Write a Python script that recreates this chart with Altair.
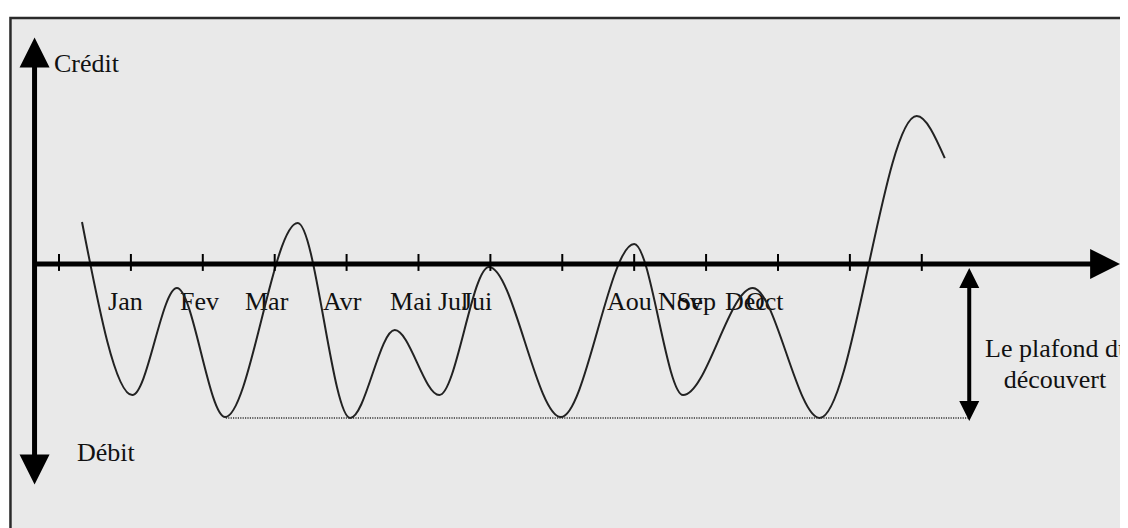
import altair as alt
import pandas as pd

# ---- data (x in months, y in balance units; plafond = -1000) ----
curve_t = [0.32, 1.02, 1.64, 2.31, 3.32, 4.05, 4.67, 5.29, 5.98, 6.98, 8.0, 8.68, 9.65, 10.58, 11.93, 12.32]
curve_v = [273, -851, -156, -994, 266, -1000, -429, -851, -19, -994, 130, -851, -156, -1000, 961, 688]

month_labels = ["Jan", "Fev", "Mar", "Avr", "Mai", "Jul", "Jui", "Aou", "Nov", "Sep", "Dec", "Oct"]
month_label_t = [0.682, 1.683, 2.587, 3.672, 4.604, 5.271, 5.605, 7.622, 8.331, 8.595, 9.263, 9.555]
month_label_v = -299

tick_t = list(range(13))
plafond = -1000

side_texts = ["Crédit", "Débit", "Le plafond du", "découvert"]
side_t = [-0.07, 0.25, 12.88, 13.14]
side_v = [1247, -1279, -604, -805]

# ---- scales ----
xs = alt.Scale(domain=[-0.7093, 14.757], nice=False, zero=False)
ys = alt.Scale(domain=[-1714.3, 1662.3], nice=False, zero=False)

def X(f="t"):
    return alt.X(f + ":Q", scale=xs, axis=None)

def Y(f="v"):
    return alt.Y(f + ":Q", scale=ys, axis=None)

box = alt.Chart(pd.DataFrame({"t": [-0.675], "t2": [16.0], "v": [1597], "v2": [-2000]})).mark_rect(
    fill="#e9e9e9", stroke="#2a2a2a", strokeWidth=2.5
).encode(x=X(), x2="t2:Q", y=Y(), y2="v2:Q")

plafond_line = alt.Chart(pd.DataFrame({"t": [2.32], "t2": [12.66], "v": [plafond]})).mark_rule(
    color="#333", strokeWidth=1.6, strokeDash=[1.2, 1.2]
).encode(x=X(), x2="t2:Q", y=Y())

curve = alt.Chart(pd.DataFrame({"t": curve_t, "v": curve_v})).mark_line(
    interpolate="monotone", color="#222", strokeWidth=2
).encode(x=X(), y=Y())

h_axis = alt.Chart(pd.DataFrame({"t": [-0.34], "t2": [14.4], "v": [0]})).mark_rule(
    color="black", strokeWidth=5
).encode(x=X(), x2="t2:Q", y=Y())

v_axis = alt.Chart(pd.DataFrame({"t": [-0.34], "v": [1330], "v2": [-1290]})).mark_rule(
    color="black", strokeWidth=5
).encode(x=X(), y=Y(), y2="v2:Q")

ticks = alt.Chart(pd.DataFrame({"t": tick_t, "v": [65] * len(tick_t), "v2": [-45] * len(tick_t)})).mark_rule(
    color="black", strokeWidth=2
).encode(x=X(), y=Y(), y2="v2:Q")

UP = "M0,-1L1,1L-1,1Z"
DOWN = "M-1,-1L1,-1L0,1Z"
RIGHT = "M-1,-1L1,0L-1,1Z"

def arrow(t, v, shape, size):
    return alt.Chart(pd.DataFrame({"t": [t], "v": [v]})).mark_point(
        shape=shape, size=size, filled=True, color="black", opacity=1, strokeWidth=0
    ).encode(x=X(), y=Y())

arrows = [
    arrow(-0.34, 1373, UP, 900),
    arrow(-0.34, -1334, DOWN, 900),
    arrow(14.55, 0, RIGHT, 900),
    arrow(12.66, -91, UP, 400),
    arrow(12.66, -955, DOWN, 400),
]

plafond_arrow = alt.Chart(pd.DataFrame({"t": [12.66], "v": [-104], "v2": [-916]})).mark_rule(
    color="black", strokeWidth=4
).encode(x=X(), y=Y(), y2="v2:Q")

labels = alt.Chart(pd.DataFrame({"t": month_label_t, "v": [month_label_v] * len(month_labels), "txt": month_labels})).mark_text(
    font="Liberation Serif", fontSize=26, align="left", baseline="alphabetic", color="#111"
).encode(x=X(), y=Y(), text="txt:N")

side = alt.Chart(pd.DataFrame({"t": side_t, "v": side_v, "txt": side_texts})).mark_text(
    font="Liberation Serif", fontSize=26, align="left", baseline="alphabetic", color="#111"
).encode(x=X(), y=Y(), text="txt:N")

chart = alt.layer(
    box, plafond_line, labels, side, curve, h_axis, v_axis, ticks, plafond_arrow, *arrows
).properties(
    width=1112, height=520, padding=0,
    autosize=alt.AutoSizeParams(type="none"),
    background="white",
).configure_view(stroke=None)

chart.save("out.html", embed_options={"renderer": "svg", "actions": False})
